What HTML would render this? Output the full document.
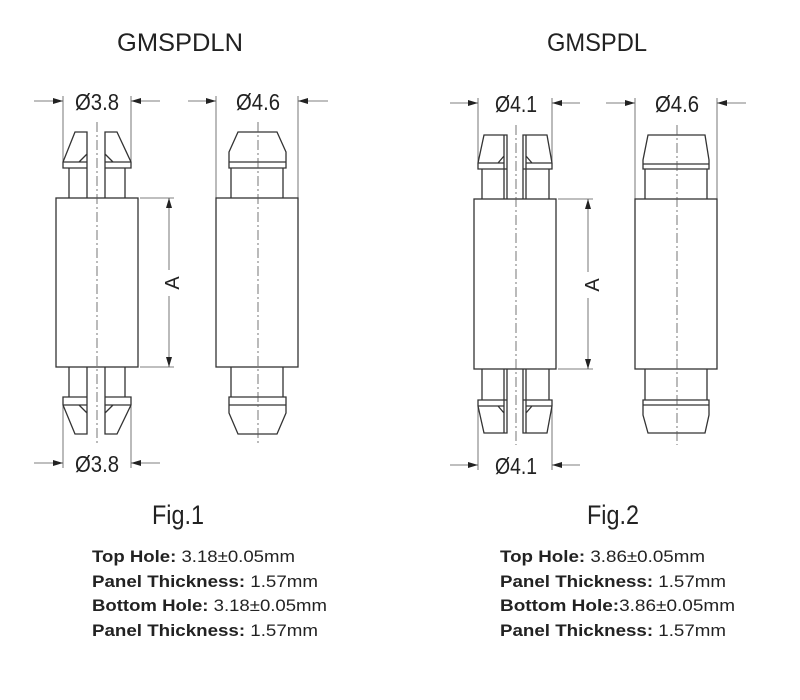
<!DOCTYPE html>
<html><head><meta charset="utf-8"><style>
html,body{margin:0;padding:0;background:#fff}
svg{display:block}
text{font-family:"Liberation Sans",Arial,sans-serif;fill:#222}
.l{stroke:#333;stroke-width:1.3;fill:none}
.t{stroke:#555;stroke-width:0.8;fill:none}
.c{stroke:#555;stroke-width:0.8;fill:none;stroke-dasharray:10 3 2 3}
.b{font-weight:bold}
</style></head><body>
<svg width="800" height="700" viewBox="0 0 800 700" xmlns="http://www.w3.org/2000/svg">
<defs>
<marker id="ar" viewBox="0 0 10 6" refX="10" refY="3" markerWidth="10" markerHeight="6" orient="auto" markerUnits="userSpaceOnUse"><path d="M0,0L10,3L0,6z" fill="#222"/></marker>
</defs>
<text x="117" y="51" font-size="25" textLength="126" lengthAdjust="spacingAndGlyphs">GMSPDLN</text>
<text x="547" y="51" font-size="25" textLength="100" lengthAdjust="spacingAndGlyphs">GMSPDL</text>

<!-- FIG1 split part -->
<g>
<line class="t" x1="34" y1="101" x2="63" y2="101" marker-end="url(#ar)"/>
<line class="t" x1="160" y1="101" x2="131" y2="101" marker-end="url(#ar)"/>
<text x="75" y="110" font-size="23" textLength="44" lengthAdjust="spacingAndGlyphs">Ø3.8</text>
<line class="t" x1="63" y1="96" x2="63" y2="162"/><line class="t" x1="131" y1="96" x2="131" y2="162"/>
<line class="t" x1="34" y1="463" x2="63" y2="463" marker-end="url(#ar)"/>
<line class="t" x1="160" y1="463" x2="131" y2="463" marker-end="url(#ar)"/>
<text x="75" y="472" font-size="23" textLength="44" lengthAdjust="spacingAndGlyphs">Ø3.8</text>
<line class="t" x1="63" y1="405" x2="63" y2="468"/><line class="t" x1="131" y1="405" x2="131" y2="468"/>
<path class="l" d="M75,132H87V168H63V162ZM63,162H87M69,168V198M87,168V198M79,162L87,154"/>
<path class="l" d="M117,132H105V168H131V162ZM131,162H105M125,168V198M105,168V198M113,162L105,154"/>
<rect class="l" x="56" y="198" width="82" height="169"/>
<path class="l" d="M69,367V397M87,367V397M63,397H87V434H75L63,405ZM63,405H87M79,405L87,413"/>
<path class="l" d="M125,367V397M105,367V397M131,397H105V434H117L131,405ZM131,405H105M113,405L105,413"/>
<line class="c" x1="97" y1="122" x2="97" y2="445"/>
<line class="t" x1="140" y1="198" x2="174" y2="198"/><line class="t" x1="140" y1="367" x2="174" y2="367"/>
<line class="t" x1="169" y1="270" x2="169" y2="198" marker-end="url(#ar)"/>
<line class="t" x1="169" y1="296" x2="169" y2="367" marker-end="url(#ar)"/>
<text transform="translate(179,283) rotate(-90)" font-size="20" text-anchor="middle">A</text>
</g>
<!-- FIG1 solid -->
<g>
<line class="t" x1="188" y1="101" x2="216" y2="101" marker-end="url(#ar)"/>
<line class="t" x1="328" y1="101" x2="298" y2="101" marker-end="url(#ar)"/>
<text x="236" y="110" font-size="23" textLength="44" lengthAdjust="spacingAndGlyphs">Ø4.6</text>
<line class="t" x1="216" y1="96" x2="216" y2="198"/><line class="t" x1="298" y1="96" x2="298" y2="198"/>
<path class="l" d="M238,132H277L286,152V168H229V152ZM229,162H286M231,168V198M283,168V198"/>
<rect class="l" x="216" y="198" width="82" height="169"/>
<path class="l" d="M231,367V397M283,367V397M229,397H286V413L277,434H238L229,413ZM229,405H286"/>
<line class="c" x1="258" y1="122" x2="258" y2="445"/>
</g>

<!-- FIG2 split -->
<g>
<line class="t" x1="450" y1="103" x2="478" y2="103" marker-end="url(#ar)"/>
<line class="t" x1="580" y1="103" x2="552" y2="103" marker-end="url(#ar)"/>
<text x="495" y="112" font-size="23" textLength="42" lengthAdjust="spacingAndGlyphs">Ø4.1</text>
<line class="t" x1="478" y1="98" x2="478" y2="163"/><line class="t" x1="552" y1="98" x2="552" y2="163"/>
<line class="t" x1="450" y1="465" x2="478" y2="465" marker-end="url(#ar)"/>
<line class="t" x1="580" y1="465" x2="552" y2="465" marker-end="url(#ar)"/>
<text x="495" y="474" font-size="23" textLength="42" lengthAdjust="spacingAndGlyphs">Ø4.1</text>
<line class="t" x1="478" y1="405" x2="478" y2="470"/><line class="t" x1="552" y1="405" x2="552" y2="470"/>
<path class="l" d="M484,135H507V169H478V163ZM478,163H504M504,135V199M507,169V199M482,169V199M498,163L504,156"/>
<path class="l" d="M547,135H523V169H552V163ZM552,163H526M526,135V199M523,169V199M549,169V199M532,163L526,156"/>
<rect class="l" x="474" y="199" width="82" height="170"/>
<path class="l" d="M482,369V400M504,369V433M507,369V400M478,400H507V433H484L478,406ZM478,406H504M498,406L504,413"/>
<path class="l" d="M549,369V400M526,369V433M523,369V400M552,400H523V433H547L552,406ZM552,406H526M532,406L526,413"/>
<line class="c" x1="516" y1="125" x2="516" y2="445"/>
<line class="t" x1="558" y1="199" x2="593" y2="199"/><line class="t" x1="558" y1="369" x2="593" y2="369"/>
<line class="t" x1="588" y1="272" x2="588" y2="199" marker-end="url(#ar)"/>
<line class="t" x1="588" y1="298" x2="588" y2="369" marker-end="url(#ar)"/>
<text transform="translate(599,285) rotate(-90)" font-size="20" text-anchor="middle">A</text>
</g>
<!-- FIG2 solid -->
<g>
<line class="t" x1="606" y1="103" x2="635" y2="103" marker-end="url(#ar)"/>
<line class="t" x1="746" y1="103" x2="717" y2="103" marker-end="url(#ar)"/>
<text x="655" y="112" font-size="23" textLength="44" lengthAdjust="spacingAndGlyphs">Ø4.6</text>
<line class="t" x1="635" y1="98" x2="635" y2="199"/><line class="t" x1="717" y1="98" x2="717" y2="199"/>
<path class="l" d="M648,135H705L709,160V169H643V160ZM643,164H709M645,169V199M707,169V199"/>
<rect class="l" x="635" y="199" width="82" height="170"/>
<path class="l" d="M645,369V400M707,369V400M643,400H709V415L705,433H648L643,415ZM643,405H709"/>
<line class="c" x1="677" y1="125" x2="677" y2="445"/>
</g>

<text x="152" y="524" font-size="27" textLength="52" lengthAdjust="spacingAndGlyphs">Fig.1</text>
<text x="587" y="524" font-size="27" textLength="52" lengthAdjust="spacingAndGlyphs">Fig.2</text>
<g font-size="17" lengthAdjust="spacingAndGlyphs">
<text x="92" y="562" textLength="203" lengthAdjust="spacingAndGlyphs"><tspan class="b">Top Hole:</tspan> 3.18±0.05mm</text>
<text x="92" y="587" textLength="226" lengthAdjust="spacingAndGlyphs"><tspan class="b">Panel Thickness:</tspan> 1.57mm</text>
<text x="92" y="611" textLength="235" lengthAdjust="spacingAndGlyphs"><tspan class="b">Bottom Hole:</tspan> 3.18±0.05mm</text>
<text x="92" y="636" textLength="226" lengthAdjust="spacingAndGlyphs"><tspan class="b">Panel Thickness:</tspan> 1.57mm</text>
<text x="500" y="562" textLength="205" lengthAdjust="spacingAndGlyphs"><tspan class="b">Top Hole:</tspan> 3.86±0.05mm</text>
<text x="500" y="587" textLength="226" lengthAdjust="spacingAndGlyphs"><tspan class="b">Panel Thickness:</tspan> 1.57mm</text>
<text x="500" y="611" textLength="235" lengthAdjust="spacingAndGlyphs"><tspan class="b">Bottom Hole:</tspan>3.86±0.05mm</text>
<text x="500" y="636" textLength="226" lengthAdjust="spacingAndGlyphs"><tspan class="b">Panel Thickness:</tspan> 1.57mm</text>
</g>
</svg>
</body></html>
